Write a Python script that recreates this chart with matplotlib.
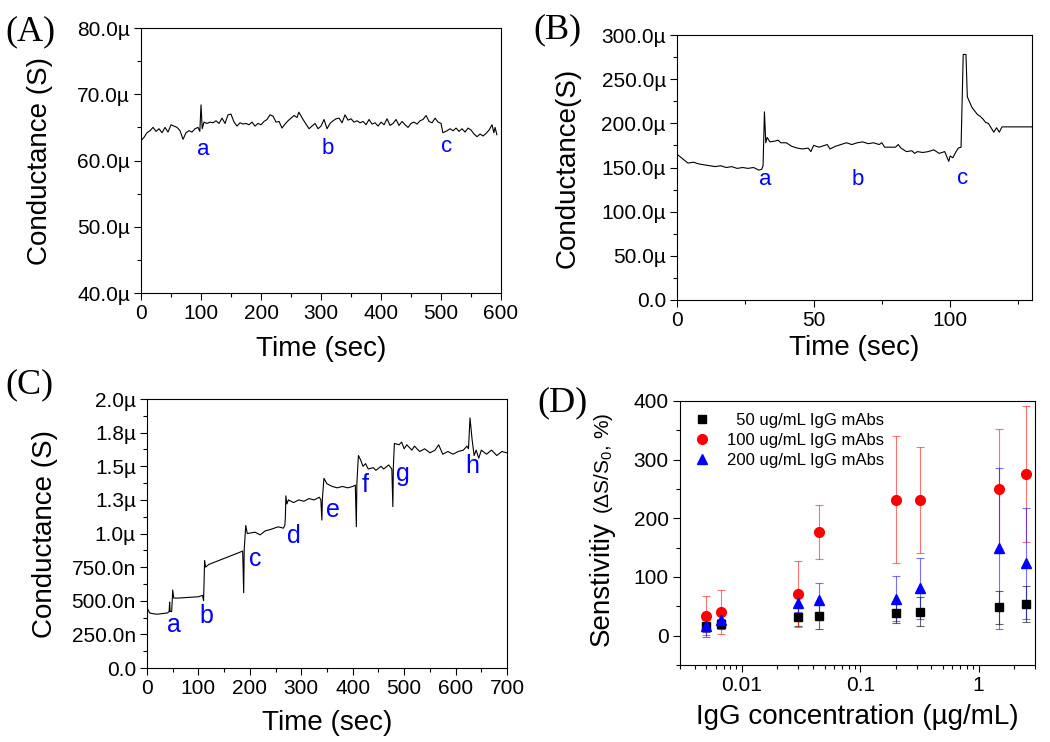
import numpy as np
import matplotlib
matplotlib.use('Agg')
import matplotlib.pyplot as plt
from matplotlib.ticker import MultipleLocator, LogLocator, NullFormatter

plt.rcParams['font.family'] = ['Liberation Sans', 'DejaVu Sans']
plt.rcParams['mathtext.fontset'] = 'custom'
plt.rcParams['mathtext.rm'] = 'Liberation Sans'
plt.rcParams['mathtext.it'] = 'Liberation Sans:italic'

# (A) conductance vs time, uS
time_a = [0, 5, 10, 15, 20, 25, 30, 35, 40, 45, 50, 55, 60, 65, 70, 75, 80, 85, 90, 95, 98,
          100, 102, 105, 110, 115, 120, 125, 130, 135, 140, 145, 150, 155, 160, 165, 170, 175,
          180, 185, 190, 195, 200, 205, 210, 215, 220, 225, 230, 235, 240, 245, 250, 255, 260,
          263, 270, 275, 280, 285, 290, 295, 300, 305, 310, 315, 320, 325, 330, 335, 340, 345,
          350, 355, 360, 365, 370, 375, 380, 385, 390, 395, 400, 405, 410, 415, 420, 425, 430,
          435, 440, 445, 450, 455, 460, 465, 470, 475, 480, 485, 490, 495, 500, 503, 510, 515,
          520, 525, 530, 535, 540, 545, 550, 555, 560, 565, 570, 575, 580, 585, 588, 590, 593]
cond_a = [63.0, 63.5, 64.2, 64.5, 65.0, 64.4, 64.8, 64.2, 65.0, 64.3, 65.4, 65.2, 65.0, 64.5,
          63.2, 64.2, 64.5, 64.3, 64.8, 65.0, 64.4, 68.4, 64.8, 65.8, 65.6, 65.8, 65.7, 66.0,
          65.6, 66.4, 65.6, 66.9, 67.0, 65.8, 65.2, 65.7, 65.5, 65.6, 65.4, 65.8, 65.2, 65.6,
          65.4, 65.9, 66.2, 66.9, 66.7, 65.8, 65.9, 64.9, 65.5, 66.0, 66.4, 66.8, 66.5, 67.3,
          66.2, 65.5, 64.8, 65.2, 65.6, 64.8, 65.2, 66.2, 64.8, 65.6, 66.0, 66.3, 66.4, 65.7,
          66.9, 66.1, 66.3, 65.8, 66.0, 65.7, 65.9, 65.4, 66.2, 65.5, 65.7, 65.2, 65.8, 65.4,
          66.3, 65.3, 65.6, 66.2, 65.3, 65.9, 65.4, 65.0, 65.6, 65.8, 65.5, 66.0, 66.2, 66.8,
          65.9, 65.7, 66.4, 65.8, 65.6, 64.2, 64.5, 64.8, 64.5, 64.9, 64.4, 64.8, 64.3, 64.9,
          64.6, 64.0, 63.6, 64.0, 63.7, 64.1, 64.6, 65.4, 64.2, 65.0, 63.9]

# (B) conductance vs time, uS
time_b = [0, 2, 4, 6, 8, 10, 12, 14, 16, 18, 20, 22, 24, 26, 28, 30, 31, 31.5, 32, 32.5, 33,
          34, 36, 37, 38, 40, 42, 44, 46, 48, 49, 50, 52, 54, 55, 56, 58, 60, 62, 64, 66, 68,
          70, 72, 74, 75, 76, 80, 81, 82, 84, 86, 87, 88, 90, 92, 94, 96, 98, 99.5, 100, 101,
          102, 103, 104, 104.8, 105.8, 106.3, 107, 108, 109, 110, 111, 112, 113, 114, 115, 116,
          117, 118, 119, 130]
cond_b = [165, 160, 155, 156, 154, 153, 152, 151, 152, 150, 151, 149, 150, 149, 150, 147, 148,
          152, 213, 178, 184, 179, 180, 181, 178, 178, 174, 172, 171, 172, 168, 175, 173, 175,
          176, 171, 174, 176, 178, 176, 178, 179, 177, 178, 176, 178, 173, 173, 176, 172, 168,
          169, 166, 168, 167, 168, 170, 166, 168, 157, 163, 161, 167, 172, 173, 278, 278, 230,
          225, 218, 214, 210, 208, 205, 201, 200, 195, 190, 195, 190, 196, 196]

# (C) conductance vs time, uS
time_c = [0, 5, 10, 20, 30, 40, 43, 44, 45, 48, 50, 52, 60, 80, 100, 108, 110, 112, 114, 120,
          140, 160, 180, 186, 188, 189, 192, 195, 210, 220, 230, 240, 255, 265, 268, 269, 270,
          272, 275, 285, 295, 305, 315, 325, 335, 338, 340, 341, 344, 350, 360, 370, 380, 390,
          400, 405, 407, 408, 411, 415, 420, 425, 430, 440, 445, 455, 460, 470, 476, 478, 479,
          481, 490, 495, 500, 505, 515, 520, 530, 540, 550, 560, 567, 575, 585, 595, 605, 615,
          622, 625, 628, 632, 636, 640, 645, 650, 660, 670, 680, 690, 700]
cond_c = [0.45, 0.41, 0.405, 0.40, 0.405, 0.41, 0.42, 0.49, 0.42, 0.42, 0.58, 0.52, 0.52, 0.525,
          0.53, 0.54, 0.50, 0.80, 0.75, 0.77, 0.80, 0.83, 0.86, 0.87, 0.56, 0.88, 1.06, 1.00,
          1.01, 0.99, 1.02, 1.03, 1.05, 1.04, 1.06, 1.12, 1.28, 1.22, 1.25, 1.23, 1.25, 1.24,
          1.26, 1.25, 1.27, 1.25, 1.10, 1.26, 1.41, 1.37, 1.35, 1.34, 1.35, 1.34, 1.35, 1.36,
          1.05, 1.37, 1.58, 1.55, 1.50, 1.52, 1.48, 1.49, 1.47, 1.50, 1.48, 1.51, 1.48, 1.20,
          1.50, 1.67, 1.66, 1.68, 1.63, 1.66, 1.62, 1.65, 1.61, 1.63, 1.60, 1.62, 1.66, 1.59,
          1.61, 1.59, 1.61, 1.62, 1.65, 1.63, 1.86, 1.70, 1.58, 1.62, 1.56, 1.62, 1.59, 1.62,
          1.58, 1.61, 1.60]

# (D) sensitivity vs IgG concentration
conc = [0.005, 0.0067, 0.03, 0.045, 0.2, 0.32, 1.5, 2.5]
sens_50 = [16, 20, 32, 33, 39, 41, 48, 54]
err_50 = [10, 8, 15, 22, 18, 25, 28, 30]
sens_100 = [34, 40, 71, 176, 232, 231, 250, 275]
err_100 = [33, 38, 57, 46, 109, 90, 102, 116]
sens_200 = [16, 27, 56, 61, 63, 81, 149, 123]
err_200 = [18, 10, 16, 29, 38, 52, 137, 95]
series_labels = ['  50 ug/mL IgG mAbs', '100 ug/mL IgG mAbs', '200 ug/mL IgG mAbs']

fig = plt.figure(figsize=(10.5, 7.42), dpi=100)
axA = fig.add_axes([0.1343, 0.6051, 0.3429, 0.3571])
axB = fig.add_axes([0.6448, 0.5957, 0.3381, 0.3571])
axC = fig.add_axes([0.1400, 0.0997, 0.3429, 0.3625])
axD = fig.add_axes([0.6476, 0.1038, 0.3381, 0.3558])

for ax in [axA, axB, axC, axD]:
    ax.tick_params(which='both', direction='out', top=False, right=False, labelsize=15, width=0.8, pad=3)
    ax.tick_params(which='major', length=5)
    ax.tick_params(which='minor', length=3)
    for s in ax.spines.values():
        s.set_linewidth(0.8)

# A
axA.plot(time_a, cond_a, color='black', lw=0.8)
axA.set_xlim(0, 600)
axA.set_ylim(40, 80)
axA.set_xticks([0, 100, 200, 300, 400, 500, 600])
axA.set_yticks([40, 50, 60, 70, 80], ['40.0µ', '50.0µ', '60.0µ', '70.0µ', '80.0µ'])
axA.xaxis.set_minor_locator(MultipleLocator(50))
axA.yaxis.set_minor_locator(MultipleLocator(5))
axA.set_xlabel('Time (sec)', fontsize=20)
axA.set_ylabel('Conductance (S)', fontsize=20)
for lab, x, y in [('a', 104, 61.6), ('b', 311, 61.8), ('c', 509, 62.1)]:
    axA.text(x, y, lab, color='blue', fontsize=16, ha='center', va='center')

# B
axB.plot(time_b, cond_b, color='black', lw=0.8)
axB.set_xlim(0, 130)
axB.set_ylim(0, 300)
axB.set_xticks([0, 50, 100])
axB.set_yticks([0, 50, 100, 150, 200, 250, 300],
               ['0.0', '50.0µ', '100.0µ', '150.0µ', '200.0µ', '250.0µ', '300.0µ'])
axB.xaxis.set_minor_locator(MultipleLocator(25))
axB.yaxis.set_minor_locator(MultipleLocator(25))
axB.set_xlabel('Time (sec)', fontsize=20)
axB.set_ylabel('Conductance(S)', fontsize=20)
for lab, x, y in [('a', 32.2, 136), ('b', 66, 136), ('c', 104.4, 138)]:
    axB.text(x, y, lab, color='blue', fontsize=16, ha='center', va='center')

# C
axC.plot(time_c, cond_c, color='black', lw=0.8)
axC.set_xlim(0, 700)
axC.set_ylim(0, 2.0)
axC.set_xticks([0, 100, 200, 300, 400, 500, 600, 700])
axC.set_yticks([0, 0.25, 0.5, 0.75, 1.0, 1.25, 1.5, 1.75, 2.0],
               ['0.0', '250.0n', '500.0n', '750.0n', '1.0µ', '1.3µ', '1.5µ', '1.8µ', '2.0µ'])
axC.xaxis.set_minor_locator(MultipleLocator(50))
axC.yaxis.set_minor_locator(MultipleLocator(0.125))
axC.set_xlabel('Time (sec)', fontsize=20)
axC.set_ylabel('Conductance (S)', fontsize=20)
for lab, x, y in [('a', 52, 0.318), ('b', 116, 0.39), ('c', 210, 0.81), ('d', 285, 0.98),
                  ('e', 361, 1.175), ('f', 425, 1.36), ('g', 498, 1.44), ('h', 632, 1.50)]:
    axC.text(x, y, lab, color='blue', fontsize=18, ha='center', va='center')

# D
eb50 = axD.errorbar(conc, sens_50, yerr=err_50, fmt='s', color='black', ms=6, elinewidth=0.8,
                    ecolor=(0, 0, 0, 0.6), capsize=3, capthick=0.8)
eb100 = axD.errorbar(conc, sens_100, yerr=err_100, fmt='o', color='#ff0000', ms=7, elinewidth=0.8,
                     ecolor=(1, 0, 0, 0.55), capsize=3, capthick=0.8)
eb200 = axD.errorbar(conc, sens_200, yerr=err_200, fmt='^', color='#0000ff', ms=7, elinewidth=0.8,
                     ecolor=(0, 0, 1, 0.55), capsize=3, capthick=0.8)
axD.set_xscale('log')
axD.set_xlim(0.003, 3)
axD.set_ylim(-50, 400)
axD.set_xticks([0.01, 0.1, 1], ['0.01', '0.1', '1'])
axD.xaxis.set_minor_locator(LogLocator(base=10, subs=np.arange(2, 10)))
axD.xaxis.set_minor_formatter(NullFormatter())
axD.set_yticks([0, 100, 200, 300, 400])
axD.yaxis.set_minor_locator(MultipleLocator(50))
axD.set_xlabel('IgG concentration (µg/mL)', fontsize=20)
axD.text(-0.22, 0.309, 'Senstivitiy', transform=axD.transAxes, rotation=90, fontsize=20,
         ha='center', va='center')
axD.text(-0.215, 0.765, r'($\Delta$S/S$_0$, %)', transform=axD.transAxes, rotation=90,
         fontsize=15, ha='center', va='center')
# legend with markers only (no error bars)
axD.legend([eb50[0], eb100[0], eb200[0]], series_labels, loc='upper left', frameon=False,
           fontsize=12, handletextpad=0.9, borderaxespad=0.3, labelspacing=0.3, handlelength=1.2)

# label positions
axA.xaxis.set_label_coords(0.5, -0.211)
axA.yaxis.set_label_coords(-0.28, 0.5)
axB.xaxis.set_label_coords(0.5, -0.181)
axB.yaxis.set_label_coords(-0.307, 0.5)
axC.xaxis.set_label_coords(0.5, -0.204)
axC.yaxis.set_label_coords(-0.283, 0.5)
axD.xaxis.set_label_coords(0.5, -0.197)
for ax in [axA, axB, axC, axD]:
    ax.xaxis.label.set_va('center')
    ax.yaxis.label.set_va('center')

# panel letters
for lab, x, y in [('(A)', 5, 32), ('(B)', 533, 30), ('(C)', 5, 385), ('(D)', 537, 403)]:
    fig.text(x / 1050, 1 - y / 742, lab, fontsize=26, family='Liberation Serif',
             ha='left', va='center')

fig.savefig('out.png', dpi=100)
